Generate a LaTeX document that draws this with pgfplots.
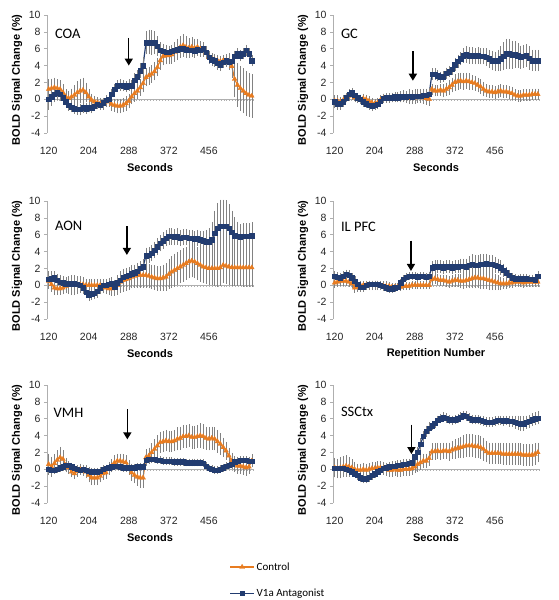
\documentclass[border=0pt]{standalone}
\usepackage{pgfplots}
\pgfplotsset{compat=1.18}
\usepackage{pgfplotstable}
\usetikzlibrary{arrows.meta}
\usepackage{fontspec}
\setmainfont{Liberation Sans}
\newfontfamily\carlito{Carlito}
\definecolor{ctrl}{RGB}{232,124,32}
\definecolor{ant}{RGB}{34,60,112}
\definecolor{axgray}{RGB}{175,175,175}
\definecolor{ebar}{RGB}{130,130,130}

\pgfplotstableread{
t c ce v ve
120 1.2 1.0 0.0 1.1
126 1.3 1.0 0.3 0.9
132 1.4 1.0 0.6 0.8
138 1.3 0.9 0.8 0.7
144 1.2 0.9 0.6 0.6
150 0.8 0.8 0.2 0.5
156 0.3 0.7 -0.3 0.5
162 0.1 0.7 -0.7 0.5
168 0.3 0.8 -0.9 0.5
174 0.5 1.0 -1.1 0.5
180 0.8 1.2 -1.2 0.5
186 1.0 1.3 -1.2 0.5
192 1.1 1.3 -1.0 0.5
198 0.8 1.0 -1.1 0.5
204 0.3 0.7 -0.9 0.5
210 -0.1 0.6 -1.0 0.5
216 -0.3 0.5 -0.8 0.4
222 -0.4 0.5 -0.6 0.4
228 -0.5 0.5 -0.7 0.4
234 -0.6 0.5 -0.4 0.4
240 -0.3 0.5 -0.1 0.4
246 -0.2 0.5 0.0 0.5
252 -0.6 0.6 0.6 0.5
258 -0.7 0.6 1.2 0.5
264 -0.8 0.7 1.6 0.5
270 -0.8 0.7 1.7 0.5
276 -0.7 0.7 1.6 0.5
282 -0.5 0.7 1.5 0.5
288 -0.2 0.7 1.7 0.5
294 0.3 0.7 1.6 0.5
300 0.7 0.8 2.3 0.6
306 1.0 0.8 2.7 0.6
312 1.4 0.8 3.4 0.7
318 1.9 0.9 4.0 0.8
324 2.6 0.9 6.7 1.2
330 2.8 0.9 6.8 1.3
336 3.0 0.9 6.7 1.3
342 3.3 0.9 6.7 1.2
348 3.8 0.9 6.3 1.0
354 4.6 0.9 5.8 0.8
360 5.1 0.9 5.7 0.7
366 5.2 0.9 5.6 0.7
372 5.2 0.9 5.6 0.6
378 5.3 0.9 5.7 0.6
384 5.6 1.0 5.8 0.6
390 5.9 1.1 5.9 0.6
396 6.2 1.1 6.0 0.6
402 6.4 1.2 6.0 0.6
408 6.2 1.1 5.9 0.6
414 6.1 1.0 5.8 0.6
420 6.2 1.0 5.8 0.6
426 6.1 0.9 5.7 0.6
432 6.2 0.8 5.9 0.6
438 6.0 0.7 5.8 0.6
444 5.8 0.6 6.0 0.6
450 5.5 0.6 5.6 0.6
456 5.0 0.5 5.0 0.6
462 4.8 0.5 4.7 0.6
468 4.7 0.5 4.6 0.6
474 4.6 0.5 4.3 0.6
480 4.5 0.5 4.1 0.6
486 4.6 0.5 4.4 0.5
492 4.6 0.6 4.6 0.5
498 4.5 0.8 4.4 0.5
504 3.9 1.2 4.5 0.5
510 2.4 2.0 5.1 0.5
516 1.7 2.4 5.4 0.5
522 1.3 2.5 5.2 0.5
528 1.0 2.5 5.4 0.5
534 0.7 2.5 5.8 0.5
540 0.5 2.4 5.4 0.5
546 0.4 2.4 4.6 0.5
}\tabCOA

\pgfplotstableread{
t c ce v ve
120 -0.2 0.5 -0.3 0.6
126 -0.2 0.5 -0.5 0.6
132 -0.3 0.4 -0.6 0.5
138 -0.1 0.4 -0.3 0.4
144 0.2 0.4 0.2 0.4
150 0.4 0.4 0.6 0.4
156 0.5 0.4 0.8 0.4
162 0.2 0.4 0.5 0.4
168 0.1 0.4 0.2 0.4
174 0.0 0.4 0.0 0.4
180 0.1 0.4 -0.3 0.4
186 0.0 0.4 -0.5 0.4
192 -0.2 0.4 -0.7 0.4
198 -0.4 0.4 -0.8 0.4
204 -0.5 0.4 -0.7 0.4
210 -0.4 0.4 -0.6 0.4
216 -0.1 0.4 -0.2 0.4
222 0.1 0.4 0.1 0.4
228 0.1 0.4 0.2 0.4
234 0.1 0.4 0.2 0.4
240 0.2 0.4 0.2 0.4
246 0.2 0.4 0.3 0.4
252 0.3 0.4 0.2 0.4
258 0.2 0.4 0.3 0.5
264 0.3 0.5 0.4 0.5
270 0.2 0.5 0.3 0.5
276 0.1 0.5 0.4 0.6
282 0.2 0.6 0.3 0.6
288 0.2 0.6 0.4 0.6
294 0.3 0.6 0.4 0.6
300 0.3 0.6 0.4 0.6
306 0.2 0.6 0.5 0.6
312 0.1 0.6 0.5 0.6
318 0.0 0.6 0.6 0.6
324 1.2 0.5 3.0 0.5
330 1.0 0.5 3.0 0.5
336 1.0 0.5 2.8 0.5
342 1.1 0.5 2.6 0.5
348 1.0 0.6 2.7 0.5
354 1.2 0.6 3.1 0.5
360 1.4 0.7 3.3 0.5
366 1.7 0.7 3.6 0.5
372 2.0 0.8 4.1 0.6
378 2.1 0.8 4.5 0.6
384 2.2 0.8 4.8 0.6
390 2.1 0.8 5.2 0.7
396 2.2 0.8 5.3 0.8
402 2.1 0.8 5.2 0.8
408 2.0 0.7 5.2 0.8
414 1.9 0.7 5.1 0.8
420 1.7 0.7 5.2 0.8
426 1.5 0.7 5.1 0.8
432 1.2 0.7 5.1 0.8
438 1.0 0.6 5.0 0.9
444 0.9 0.6 4.8 0.9
450 0.9 0.6 4.6 1.0
456 0.8 0.6 4.5 1.0
462 0.9 0.6 4.6 1.1
468 1.0 0.6 4.8 1.3
474 0.9 0.6 5.1 1.5
480 0.9 0.6 5.4 1.6
486 0.8 0.6 5.4 1.6
492 0.7 0.6 5.3 1.5
498 0.5 0.5 5.3 1.4
504 0.4 0.5 5.2 1.3
510 0.4 0.5 5.0 1.2
516 0.5 0.5 5.1 1.2
522 0.5 0.5 5.2 1.2
528 0.5 0.5 4.9 1.2
534 0.6 0.5 4.6 1.1
540 0.6 0.5 4.6 1.1
546 0.6 0.5 4.6 1.1
}\tabGC

\pgfplotstableread{
t c ce v ve
120 0.5 0.8 0.7 0.8
126 0.1 0.7 0.8 0.7
132 -0.3 0.7 0.9 0.6
138 -0.4 0.6 0.6 0.6
144 -0.4 0.6 0.4 0.6
150 -0.3 0.6 0.3 0.6
156 -0.1 0.7 0.2 0.6
162 0.0 0.9 0.2 0.6
168 0.0 1.0 0.2 0.6
174 0.0 1.0 0.2 0.6
180 0.0 0.9 0.1 0.6
186 0.1 0.8 0.0 0.6
192 0.1 0.7 -0.3 0.6
198 0.0 0.6 -0.8 0.6
204 0.0 0.6 -1.1 0.6
210 0.0 0.6 -1.0 0.6
216 0.0 0.6 -0.9 0.6
222 0.0 0.6 -0.7 0.6
228 0.0 0.6 -0.3 0.6
234 -0.2 0.6 0.0 0.6
240 -0.3 0.6 0.0 0.6
246 -0.4 0.6 0.1 0.6
252 -0.4 0.7 0.2 0.6
258 -0.3 0.8 -0.2 0.6
264 0.0 1.0 0.3 0.6
270 0.4 1.1 0.6 0.6
276 0.6 1.2 1.0 0.6
282 0.7 1.2 1.1 0.6
288 0.8 1.2 1.2 0.6
294 1.0 1.2 1.4 0.6
300 1.1 1.2 1.5 0.6
306 1.2 1.3 1.7 0.6
312 1.2 1.3 2.0 0.7
318 1.2 1.3 2.2 0.7
324 1.2 1.3 3.5 0.8
330 1.1 1.3 3.6 0.8
336 1.0 1.3 3.8 0.8
342 0.9 1.3 4.2 0.8
348 0.8 1.3 4.6 0.8
354 0.8 1.3 5.0 0.8
360 0.9 1.4 5.3 0.8
366 1.0 1.5 5.6 0.8
372 1.3 1.6 5.8 0.8
378 1.6 1.7 5.8 0.8
384 1.8 1.8 5.7 0.8
390 2.0 1.8 5.8 0.8
396 2.2 1.8 5.6 0.8
402 2.4 1.8 5.7 0.8
408 2.6 1.8 5.7 0.8
414 2.8 1.8 5.6 0.8
420 2.9 1.8 5.6 0.8
426 2.8 1.8 5.5 0.8
432 2.6 1.8 5.6 0.8
438 2.4 1.8 5.4 0.9
444 2.2 1.8 5.3 1.0
450 2.1 1.8 5.2 1.2
456 2.0 1.8 5.1 1.5
462 2.0 1.8 5.4 2.0
468 2.0 1.9 6.2 2.5
474 2.0 2.0 6.8 2.8
480 2.1 2.0 7.0 3.0
486 2.4 2.0 7.0 3.0
492 2.3 2.0 7.0 2.9
498 2.2 2.0 6.8 2.7
504 2.1 2.0 6.3 2.4
510 2.1 2.0 5.9 2.0
516 2.1 2.0 5.8 1.6
522 2.1 2.0 5.7 1.4
528 2.1 2.1 5.8 1.4
534 2.1 2.1 5.8 1.4
540 2.1 2.1 5.8 1.4
546 2.1 2.1 5.9 1.4
}\tabAON

\pgfplotstableread{
t c ce v ve
120 0.3 0.4 1.1 0.4
126 0.4 0.4 1.0 0.4
132 0.5 0.4 0.9 0.4
138 0.5 0.4 1.1 0.4
144 0.5 0.4 1.3 0.4
150 0.4 0.4 1.2 0.4
156 0.2 0.4 0.9 0.4
162 -0.3 0.4 0.5 0.4
168 -0.2 0.4 0.1 0.4
174 0.0 0.4 -0.2 0.4
180 0.0 0.4 -0.2 0.4
186 0.0 0.4 0.0 0.3
192 0.0 0.4 0.1 0.3
198 0.0 0.4 0.1 0.3
204 0.0 0.4 0.1 0.3
210 0.0 0.4 0.1 0.3
216 0.0 0.4 0.0 0.3
222 -0.1 0.4 -0.1 0.3
228 -0.1 0.4 -0.3 0.3
234 -0.1 0.3 -0.4 0.3
240 -0.2 0.3 -0.4 0.3
246 -0.2 0.3 -0.3 0.3
252 -0.2 0.3 -0.2 0.3
258 -0.2 0.3 0.3 0.3
264 -0.1 0.3 0.7 0.3
270 -0.1 0.3 1.0 0.3
276 -0.1 0.3 1.1 0.3
282 0.0 0.3 1.1 0.3
288 0.0 0.3 1.1 0.3
294 0.0 0.3 1.0 0.3
300 0.0 0.3 1.1 0.3
306 0.0 0.3 1.1 0.3
312 0.0 0.3 1.0 0.3
318 0.0 0.3 1.1 0.3
324 0.7 0.5 2.1 0.6
330 0.8 0.5 2.2 0.6
336 0.7 0.5 2.2 0.6
342 0.6 0.5 2.2 0.6
348 0.6 0.5 2.1 0.6
354 0.5 0.5 2.2 0.6
360 0.4 0.5 2.2 0.6
366 0.5 0.5 2.1 0.6
372 0.6 0.6 2.2 0.6
378 0.6 0.6 2.2 0.6
384 0.5 0.7 2.3 0.7
390 0.5 0.8 2.3 0.7
396 0.6 0.8 2.2 0.8
402 0.7 0.9 2.4 0.9
408 0.8 1.0 2.5 1.0
414 0.9 1.1 2.4 1.0
420 0.9 1.1 2.4 1.0
426 0.8 1.1 2.5 1.0
432 0.8 1.1 2.5 1.0
438 0.7 1.0 2.6 1.0
444 0.6 1.0 2.5 0.9
450 0.5 0.9 2.5 0.9
456 0.4 0.8 2.4 0.8
462 0.3 0.7 2.3 0.7
468 0.2 0.6 2.1 0.7
474 0.2 0.5 1.8 0.6
480 0.2 0.5 1.5 0.5
486 0.3 0.5 1.2 0.5
492 0.3 0.4 0.9 0.4
498 0.4 0.4 0.8 0.4
504 0.4 0.4 0.7 0.4
510 0.4 0.4 0.8 0.4
516 0.3 0.4 0.8 0.4
522 0.4 0.4 0.8 0.4
528 0.4 0.4 0.7 0.4
534 0.4 0.4 0.7 0.4
540 0.4 0.4 0.6 0.4
546 0.4 0.4 1.1 0.4
}\tabIL

\pgfplotstableread{
t c ce v ve
120 0.6 1.1 0.0 0.3
126 0.3 1.0 -0.1 0.3
132 0.7 0.9 -0.1 0.3
138 1.1 1.0 0.0 0.3
144 1.4 1.1 0.2 0.3
150 1.2 0.9 0.3 0.3
156 0.5 0.7 0.5 0.3
162 0.2 0.6 0.5 0.3
168 -0.3 0.5 0.3 0.3
174 -0.5 0.5 0.1 0.3
180 -0.2 0.5 0.0 0.3
186 0.0 0.5 -0.1 0.3
192 -0.1 0.5 0.0 0.3
198 -0.3 0.6 -0.1 0.3
204 -0.7 0.7 -0.2 0.3
210 -1.0 0.7 -0.3 0.3
216 -1.0 0.7 -0.3 0.3
222 -1.0 0.7 -0.3 0.3
228 -0.8 0.6 -0.2 0.3
234 -0.5 0.6 0.0 0.3
240 -0.4 0.6 0.1 0.3
246 0.1 0.6 0.2 0.3
252 0.4 0.6 0.3 0.3
258 0.8 0.7 0.4 0.3
264 1.0 0.7 0.4 0.3
270 1.0 0.7 0.3 0.3
276 0.9 0.7 0.2 0.3
282 0.8 0.7 0.2 0.3
288 0.2 0.7 0.2 0.3
294 -0.4 0.8 0.2 0.3
300 -0.7 0.8 0.2 0.3
306 -0.9 0.9 0.3 0.3
312 -1.0 1.0 0.3 0.3
318 -1.0 1.0 0.3 0.3
324 1.4 0.8 1.1 0.3
330 1.6 0.8 1.2 0.3
336 2.0 0.9 1.2 0.3
342 2.4 1.0 1.2 0.3
348 2.8 1.1 1.1 0.3
354 3.2 1.1 1.1 0.3
360 3.3 1.1 1.0 0.3
366 3.4 1.1 1.0 0.3
372 3.3 1.1 1.0 0.3
378 3.3 1.1 1.0 0.3
384 3.4 1.1 0.9 0.3
390 3.6 1.2 0.9 0.3
396 3.7 1.2 0.9 0.3
402 3.9 1.2 0.9 0.3
408 3.9 1.2 0.8 0.3
414 4.0 1.2 0.8 0.3
420 3.8 1.2 0.8 0.3
426 3.8 1.2 0.8 0.3
432 3.9 1.2 0.8 0.3
438 4.0 1.3 0.8 0.3
444 3.9 1.3 0.7 0.3
450 3.7 1.2 0.4 0.3
456 3.6 1.2 0.1 0.3
462 3.7 1.2 0.0 0.3
468 3.6 1.2 -0.1 0.3
474 3.3 1.2 -0.1 0.3
480 3.0 1.1 0.0 0.3
486 2.6 1.0 0.2 0.3
492 2.2 0.9 0.4 0.3
498 1.6 0.8 0.5 0.3
504 1.0 0.8 0.6 0.3
510 0.6 0.8 0.9 0.3
516 0.4 0.8 1.0 0.3
522 0.4 0.8 1.1 0.3
528 0.3 0.8 1.1 0.3
534 0.2 0.8 1.1 0.3
540 0.3 0.7 1.0 0.3
546 1.0 0.6 1.0 0.3
}\tabVMH

\pgfplotstableread{
t c ce v ve
120 0.2 1.0 0.1 0.9
126 0.1 1.0 0.1 0.6
132 0.2 1.1 0.1 0.4
138 0.3 1.1 0.1 0.4
144 0.4 1.1 0.0 0.4
150 0.3 1.0 -0.1 0.4
156 0.2 0.8 -0.3 0.4
162 0.0 0.7 -0.5 0.4
168 -0.1 0.6 -0.7 0.4
174 -0.1 0.6 -1.0 0.4
180 0.0 0.6 -1.1 0.4
186 -0.1 0.6 -1.1 0.4
192 0.0 0.6 -0.9 0.4
198 0.1 0.6 -0.7 0.4
204 0.1 0.6 -0.5 0.4
210 0.2 0.6 -0.3 0.4
216 0.2 0.6 -0.1 0.4
222 0.1 0.6 0.1 0.4
228 0.0 0.6 0.2 0.4
234 -0.1 0.6 0.3 0.4
240 -0.1 0.6 0.4 0.4
246 0.0 0.6 0.4 0.4
252 -0.1 0.6 0.5 0.4
258 -0.1 0.6 0.5 0.4
264 0.0 0.6 0.6 0.4
270 0.0 0.6 0.6 0.4
276 0.0 0.6 0.7 0.4
282 0.1 0.6 0.8 0.4
288 0.3 0.6 1.5 0.5
294 0.6 0.7 2.0 0.5
300 0.8 0.7 3.0 0.5
306 1.0 0.7 3.9 0.5
312 1.0 0.7 4.5 0.5
318 1.3 0.7 4.9 0.5
324 2.1 0.8 5.2 0.4
330 2.1 0.8 5.5 0.4
336 2.2 0.8 5.8 0.4
342 2.1 0.8 6.0 0.4
348 2.2 0.8 6.2 0.4
354 2.2 0.8 6.1 0.4
360 2.1 0.9 5.9 0.4
366 2.3 0.9 5.8 0.4
372 2.4 1.0 5.9 0.4
378 2.5 1.0 6.0 0.4
384 2.6 1.1 6.2 0.4
390 2.7 1.2 6.4 0.4
396 2.8 1.2 6.3 0.4
402 2.8 1.2 6.1 0.4
408 2.8 1.2 5.9 0.4
414 2.7 1.2 5.9 0.4
420 2.7 1.2 5.9 0.4
426 2.6 1.2 5.8 0.4
432 2.4 1.2 5.7 0.4
438 2.1 1.1 5.6 0.4
444 1.9 1.1 5.6 0.4
450 1.9 1.1 5.6 0.4
456 1.9 1.1 5.7 0.4
462 1.9 1.1 5.8 0.4
468 1.9 1.1 5.8 0.4
474 1.8 1.1 5.7 0.4
480 1.8 1.1 5.8 0.4
486 1.8 1.1 5.7 0.5
492 1.8 1.1 5.7 0.5
498 1.8 1.1 5.6 0.6
504 1.8 1.1 5.5 0.7
510 1.8 1.1 5.4 0.7
516 1.7 1.1 5.4 0.7
522 1.7 1.1 5.6 0.6
528 1.7 1.1 5.7 0.6
534 1.7 1.1 5.9 0.6
540 1.8 1.1 6.0 0.6
546 2.0 1.0 6.1 0.6
}\tabSSC

\pgfplotsset{
  panel/.style={
    scale only axis, width=206pt, height=118pt,
    xmin=116.5, xmax=548.5, ymin=-4, ymax=10,
    xtick={120,204,288,372,456}, ytick={-4,-2,0,2,4,6,8,10},
    axis y line*=left, axis x line*=bottom,
    y axis line style={axgray, line width=0.6pt, -},
    x axis line style={draw=none, -},
    tick align=outside, major tick length=3pt,
    ytick style={axgray, line width=0.6pt},
    xtick style={draw=none},
    /pgf/number format/assume math mode=true,
    ticklabel style={font=\fontsize{10.5}{12}\selectfont, text=black!85},
    xticklabel style={yshift=-8pt},
    xlabel style={font=\bfseries\fontsize{11}{13}\selectfont, at={(axis description cs:0.5,-0.29)}, anchor=center},
    ylabel style={font=\bfseries\fontsize{11}{13}\selectfont, at={(axis description cs:-0.145,0.45)}, anchor=center},
    ylabel={BOLD Signal Change (\%)},
    xlabel={Seconds},
    clip=false,
  },
  ctrlplot/.style={color=ctrl, line width=1.2pt, mark=triangle*, mark size=2.8pt,
    mark options={line width=0.3pt},
    error bars/.cd, y dir=both, y explicit,
    error bar style={color=ebar, line width=0.4pt},
    error mark options={color=ebar, mark size=1.4pt, line width=0.4pt}},
  antplot/.style={color=ant, line width=1.2pt, mark=square*, mark size=2.2pt,
    mark options={line width=0.3pt},
    error bars/.cd, y dir=both, y explicit,
    error bar style={color=ebar, line width=0.4pt},
    error mark options={color=ebar, mark size=1.4pt, line width=0.4pt}},
}
\newcommand{\zeroline}{%
  \draw[axgray, line width=0.5pt] (axis cs:116.5,0) -- (axis cs:548.5,0);
  \draw[axgray, line width=2.2pt, dash pattern=on 0.45pt off 2.48pt, yshift=-1pt] (axis cs:118,0) -- (axis cs:548.5,0);}
\newcommand{\paneltitle}[3]{\node[anchor=west, inner sep=0pt, font=\carlito\fontsize{14.5}{16}\selectfont] at (axis cs:#1,#2) {#3};}
\newcommand{\parrow}[3]{\draw[-{Triangle[length=7pt,width=8pt]}, line width=1.4pt] (axis cs:#1,#2) -- (axis cs:#1,#3);}

\begin{document}
\begin{tikzpicture}
\path[use as bounding box] (0pt,0pt) rectangle (559pt,-600pt);

% COA
\begin{axis}[panel, at={(47pt,-15pt)}, anchor=north west]
\zeroline
\addplot[ctrlplot] table[x=t, y=c, y error=ce] {\tabCOA};
\addplot[antplot] table[x=t, y=v, y error=ve] {\tabCOA};
\paneltitle{133}{7.8}{COA}
\parrow{288}{7.3}{4.0}
\end{axis}

% GC
\begin{axis}[panel, at={(333pt,-15pt)}, anchor=north west]
\zeroline
\addplot[ctrlplot] table[x=t, y=c, y error=ce] {\tabGC};
\addplot[antplot] table[x=t, y=v, y error=ve] {\tabGC};
\paneltitle{133}{7.8}{GC}
\parrow{284}{5.7}{2.2}
\end{axis}

% AON
\begin{axis}[panel, at={(47pt,-201pt)}, anchor=north west]
\zeroline
\addplot[ctrlplot] table[x=t, y=c, y error=ce] {\tabAON};
\addplot[antplot] table[x=t, y=v, y error=ve] {\tabAON};
\paneltitle{133}{7.1}{AON}
\parrow{284}{7.0}{3.6}
\end{axis}

% IL PFC
\begin{axis}[panel, at={(333pt,-201pt)}, anchor=north west, xlabel={Repetition Number}]
\zeroline
\addplot[ctrlplot] table[x=t, y=c, y error=ce] {\tabIL};
\addplot[antplot] table[x=t, y=v, y error=ve] {\tabIL};
\paneltitle{133}{6.9}{IL PFC}
\parrow{280}{5.3}{1.7}
\end{axis}

% VMH
\begin{axis}[panel, at={(47pt,-385pt)}, anchor=north west,
  legend style={at={(axis description cs:0.885,-0.485)}, anchor=north west, draw=none, fill=none,
    font=\carlito\fontsize{11}{13}\selectfont, row sep=13pt, inner sep=0pt},
  legend cell align=left,
  legend image code/.code={\draw[mark repeat=2,mark phase=2] plot coordinates {(0pt,0pt) (12pt,0pt) (24pt,0pt)};}]
\zeroline
\addplot[ctrlplot] table[x=t, y=c, y error=ce] {\tabVMH};
\addlegendentry{Control}
\addplot[antplot] table[x=t, y=v, y error=ve] {\tabVMH};
\addlegendentry{V1a Antagonist}
\paneltitle{130}{6.7}{VMH}
\parrow{285}{7.1}{3.55}
\end{axis}

% SSCtx
\begin{axis}[panel, at={(333pt,-385pt)}, anchor=north west]
\zeroline
\addplot[ctrlplot] table[x=t, y=c, y error=ce] {\tabSSC};
\addplot[antplot] table[x=t, y=v, y error=ve] {\tabSSC};
\paneltitle{133}{6.8}{SSCtx}
\parrow{281}{5.3}{1.8}
\end{axis}
\end{tikzpicture}
\end{document}
